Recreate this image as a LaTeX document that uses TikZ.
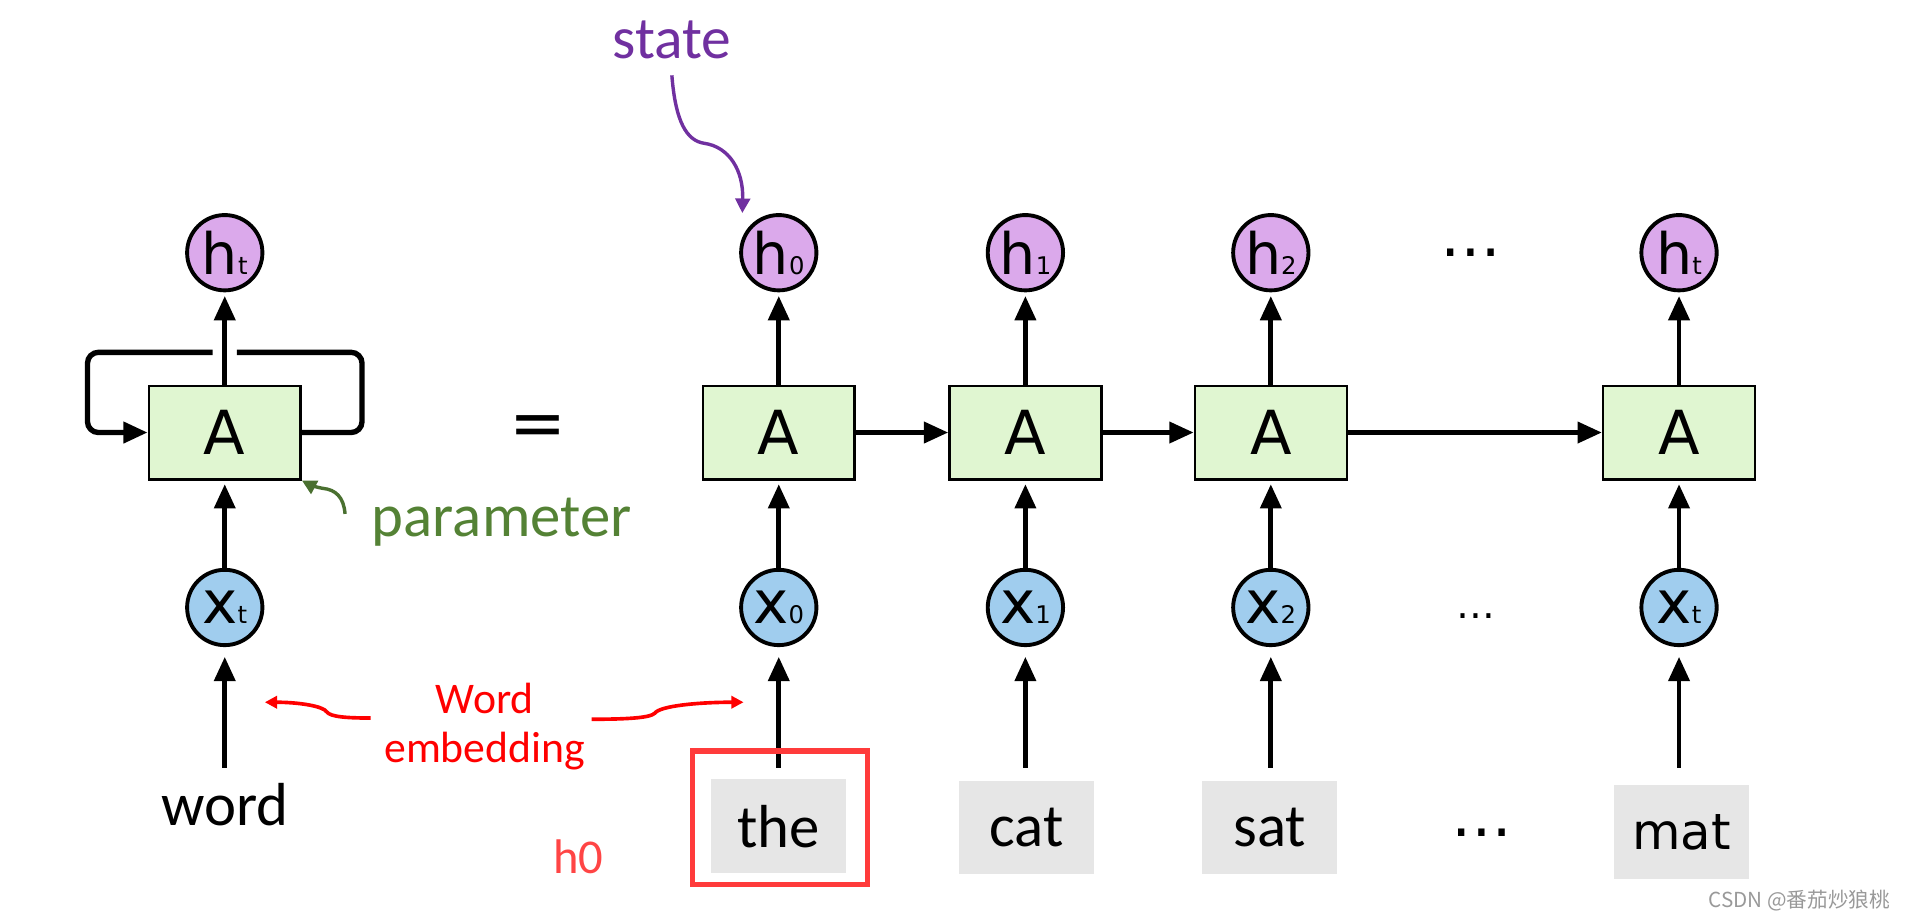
\documentclass[tikz,border=0pt]{standalone}
\usepackage{fontspec}
\setmainfont{Carlito}
\newfontfamily\dvfont{DejaVu Sans}
\newfontfamily\cjkfont{Noto Sans CJK SC}
\usetikzlibrary{arrows.meta}
\definecolor{hpurple}{HTML}{DBA9EB}
\definecolor{xblue}{HTML}{A0CDEE}
\definecolor{agreen}{HTML}{E0F6D1}
\definecolor{wgray}{HTML}{E6E6E6}
\definecolor{statepurple}{HTML}{7030A0}
\definecolor{paramgreen}{HTML}{548235}
\definecolor{parrowgreen}{HTML}{4A7030}
\definecolor{boxred}{HTML}{FF3B3B}
\definecolor{embred}{HTML}{FF0000}
\definecolor{hzero}{HTML}{FF4545}
\newcommand\hsym[1]{{\dvfont\fontsize{47}{47}\selectfont h\fontsize{20}{20}\selectfont #1}}
\newcommand\xsym[1]{{\dvfont\fontsize{49}{49}\selectfont x\fontsize{20}{20}\selectfont #1}}
\begin{document}
\begin{tikzpicture}[x=1pt,y=-1pt,
  hnode/.style={circle,draw,line width=3.2pt,fill=hpurple,minimum size=62pt,inner sep=0pt},
  xnode/.style={circle,draw,line width=3.2pt,fill=xblue,minimum size=62pt,inner sep=0pt},
  abox/.style={draw,line width=2pt,fill=agreen,minimum width=125pt,minimum height=77pt,inner sep=0pt,font=\dvfont\fontsize{50}{50}\selectfont},
  wbox/.style={fill=wgray,minimum width=111pt,minimum height=77pt,inner sep=0pt,font=\fontsize{50}{50}\selectfont},
  arr/.style={line width=4pt,-{Triangle[length=20pt,width=17pt]}},
  uparr/.style={arr,shorten >=3pt},
  inarr/.style={arr,shorten >=8pt},
  thinarr/.style={line width=2.8pt,-{Triangle[length=12pt,width=12pt]}},
  redarr/.style={embred,line width=3pt,-{Triangle[length=10pt,width=10pt]}},
  bigdots/.style={font=\dvfont\fontsize{50}{50}\selectfont},
]
\useasboundingbox (0,0) rectangle (1568,758);

% ---- left folded column ----
\node[hnode] (hL) at (185,208) {\hsym{t}};
\node[abox] (aL) at (185,356) {A};
\node[xnode] (xL) at (185,500) {\xsym{t}};
\node[font=\fontsize{50}{50}\selectfont] (wL) at (185,662) {word};
\coordinate (bL) at (185,632);
\draw[uparr] (aL) -- (hL);
\draw[uparr] (xL) -- (aL);
\draw[inarr] (bL) -- (xL);
\coordinate (gR) at (195,290);
\coordinate (gL) at (175,290);
\draw[line width=4.4pt,rounded corners=9pt] (aL.east) -| (298,290) -- (gR);
\draw[arr,line width=4.4pt,rounded corners=9pt] (gL) -- (72,290) |- (aL.west);

\node[font=\dvfont\fontsize{56}{56}\selectfont] (eq) at (443,355) {=};

% parameter label
\node[font=\fontsize{50}{50}\selectfont,text=paramgreen] (par) at (413,430) {parameter};
\draw[thinarr,parrowgreen] (284,423) .. controls (283,409) and (276,403) .. (266,402) .. controls (260,401) and (255,399) .. (aL.south east);

% ---- unrolled columns ----
\foreach \i/\xx/\s in {0/641/0,1/844/1,2/1046/2,3/1382/t}{
  \node[hnode] (h\i) at (\xx,208) {\hsym{\s}};
  \node[abox] (a\i) at (\xx,356) {A};
  \node[xnode] (x\i) at (\xx,500) {\xsym{\s}};
  \coordinate (b\i) at (\xx,632);
  \draw[uparr] (a\i) -- (h\i);
  \draw[uparr] (x\i) -- (a\i);
  \draw[inarr] (b\i) -- (x\i);
}
\draw[arr] (a0) -- (a1);
\draw[arr] (a1) -- (a2);
\draw[arr] (a2) -- (a3);

\node[wbox] (w0) at (641,680) {the};
\node[wbox] (w1) at (845,681) {cat};
\node[wbox] (w2) at (1045,681) {sat};
\node[wbox,font=\dvfont\fontsize{41}{41}\selectfont] (w3) at (1384,685) {mat};

% dots
\node[bigdots] (d1) at (1211,208) {…};
\node[font=\dvfont\fontsize{32}{32}\selectfont] (d2) at (1215,507) {…};
\node[bigdots] (d3) at (1220,685) {…};

% red highlight
\node[draw=boxred,line width=4.5pt,minimum width=144pt,minimum height=110pt,inner sep=0pt] (hl) at (642,673) {};
\node[text=hzero,font=\fontsize{40}{40}\selectfont] (hz) at (476,705) {h0};

% word embedding
\node[text=embred,font=\fontsize{36}{36}\selectfont] (we1) at (399,575) {Word};
\node[text=embred,font=\fontsize{36}{36}\selectfont] (we2) at (399,618) {embedding};
\coordinate (weL) at (305,591);
\coordinate (weR) at (487,592);
\coordinate (tL) at (218,578);
\coordinate (tR) at (612,578);
\draw[redarr] (weL) .. controls (285,591) and (272,590) .. (269,586) .. controls (266,581) and (245,578) .. (tL);
\draw[redarr] (weR) .. controls (515,592) and (535,591) .. (539,587) .. controls (543,581) and (575,578) .. (tR);

% state
\node[text=statepurple,font=\fontsize{49}{49}\selectfont] (st) at (553,33) {state};
\draw[thinarr,statepurple] (553,62) .. controls (556,100) and (565,116) .. (580,118) .. controls (600,121) and (612,140) .. ([xshift=-30pt]h0.north);

% watermark
\node[text=black!40,font=\cjkfont\fontsize{17}{17}\selectfont] (wm) at (1481,741) {CSDN @番茄炒狼桃};
\end{tikzpicture}
\end{document}
